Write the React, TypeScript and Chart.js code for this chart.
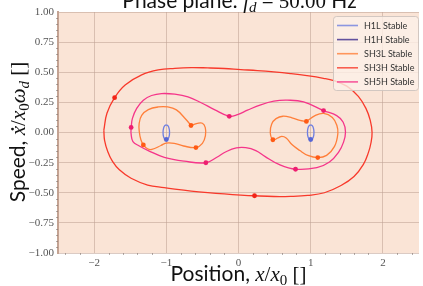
import React, { useEffect, useRef } from "react";
import { Chart, registerables } from "chart.js";

Chart.register(...registerables);

// ---------- data ----------
const xTicks = [-2, -1, 0, 1, 2];
const yTicks = [-1, -0.75, -0.5, -0.25, 0, 0.25, 0.5, 0.75, 1];
const xMinorTicks = [-2.4, -2.2, -1.8, -1.6, -1.4, -1.2, -0.8, -0.6, -0.4, -0.2, 0.2, 0.4, 0.6, 0.8, 1.2, 1.4, 1.6, 1.8, 2.2, 2.4];
const yMinorTicks = [-0.95, -0.9, -0.85, -0.8, -0.7, -0.65, -0.6, -0.55, -0.45, -0.4, -0.35, -0.3, -0.2, -0.15, -0.1, -0.05, 0.05, 0.1, 0.15, 0.2, 0.3, 0.35, 0.4, 0.45, 0.55, 0.6, 0.65, 0.7, 0.8, 0.85, 0.9, 0.95];

const h1lLeft: number[][] = [
  [-1.0, 0.064], [-0.976, 0.054], [-0.96, 0.03], [-0.955, 0.0], [-0.96, -0.03], [-0.976, -0.053], [-1.0, -0.062],
  [-1.024, -0.053], [-1.04, -0.03], [-1.045, 0.0], [-1.04, 0.03], [-1.024, 0.054], [-1.0, 0.064],
];
const h1lRight: number[][] = [
  [1.0, 0.064], [1.024, 0.054], [1.04, 0.03], [1.045, 0.0], [1.04, -0.03], [1.024, -0.053], [1.0, -0.062],
  [0.976, -0.053], [0.96, -0.03], [0.955, 0.0], [0.96, 0.03], [0.976, 0.054], [1.0, 0.064],
];
const h1hCurve: number[][] = [];
const h1Markers: number[][] = [[-1.0, -0.058], [1.0, -0.058]];

const sh3lLeft: number[][] = [
  [-0.656, 0.058], [-0.746, 0.12], [-0.86, 0.188], [-0.98, 0.212], [-1.112, 0.212], [-1.249, 0.19],
  [-1.341, 0.142], [-1.376, 0.075], [-1.374, 0.006], [-1.352, -0.06], [-1.318, -0.103], [-1.26, -0.135],
  [-1.2, -0.14], [-1.074, -0.108], [-1.005, -0.088], [-0.89, -0.09], [-0.76, -0.112], [-0.59, -0.125],
  [-0.5, -0.09], [-0.458, -0.025], [-0.46, 0.04], [-0.5, 0.077], [-0.57, 0.075], [-0.656, 0.058],
];
const sh3lRight: number[][] = [
  [0.94, 0.092], [1.06, 0.14], [1.18, 0.158], [1.3, 0.125], [1.362, 0.06], [1.376, -0.01], [1.33, -0.115],
  [1.22, -0.19], [1.098, -0.208], [0.96, -0.19], [0.85, -0.15], [0.74, -0.1], [0.66, -0.045], [0.6, -0.032],
  [0.548, -0.045], [0.476, -0.06], [0.44, 0.0], [0.46, 0.07], [0.52, 0.115], [0.615, 0.135], [0.74, 0.122],
  [0.85, 0.1], [0.94, 0.092],
];
const sh3lMarkers: number[][] = [
  [-0.658, 0.058], [-1.318, -0.103], [-0.59, -0.125],
  [0.94, 0.092], [0.476, -0.06], [1.098, -0.208],
];

const sh3hCurve: number[][] = [
  [-1.865, 0.02], [-1.822, 0.16], [-1.716, 0.289], [-1.57, 0.394], [-1.341, 0.478], [-1.112, 0.519],
  [-0.883, 0.533], [-0.654, 0.539], [-0.426, 0.536], [-0.197, 0.531], [0.032, 0.522], [0.261, 0.514],
  [0.49, 0.503], [0.719, 0.489], [0.947, 0.472], [1.176, 0.45], [1.32, 0.43], [1.5, 0.385], [1.66, 0.3],
  [1.765, 0.2], [1.825, 0.1], [1.85, 0.0], [1.835, -0.085], [1.8, -0.165], [1.73, -0.265], [1.6, -0.365],
  [1.42, -0.44], [1.19, -0.5], [0.96, -0.522], [0.72, -0.53], [0.49, -0.531], [0.222, -0.525],
  [0.032, -0.519], [-0.197, -0.51], [-0.426, -0.499], [-0.654, -0.486], [-0.883, -0.47], [-1.03, -0.458],
  [-1.258, -0.436], [-1.488, -0.38], [-1.65, -0.31], [-1.745, -0.24], [-1.81, -0.16], [-1.855, -0.065],
  [-1.865, 0.02],
];
const sh3hMarkers: number[][] = [[-1.716, 0.289], [0.222, -0.525]];

const sh5hCurve: number[][] = [
  [-1.487, 0.042], [-1.469, 0.117], [-1.41, 0.2], [-1.318, 0.268], [-1.204, 0.307], [-1.066, 0.323],
  [-0.883, 0.318], [-0.7, 0.296], [-0.517, 0.247], [-0.334, 0.19], [-0.128, 0.134], [-0.014, 0.148],
  [0.124, 0.185], [0.307, 0.23], [0.49, 0.26], [0.673, 0.268], [0.902, 0.255], [1.178, 0.182],
  [1.36, 0.14], [1.45, 0.085], [1.482, 0.004], [1.455, -0.08], [1.385, -0.165], [1.26, -0.245],
  [1.085, -0.292], [0.79, -0.305], [0.56, -0.265], [0.37, -0.2], [0.24, -0.15], [0.1, -0.126],
  [-0.03, -0.128], [-0.174, -0.16], [-0.3, -0.205], [-0.452, -0.251], [-0.752, -0.238], [-1.028, -0.206],
  [-1.25, -0.15], [-1.38, -0.11], [-1.462, -0.075], [-1.488, -0.01], [-1.487, 0.042],
];
const sh5hMarkers: number[][] = [
  [-1.487, 0.042], [-0.128, 0.134], [1.178, 0.182], [0.79, -0.305], [-0.452, -0.251],
];

const legendLabels = ["H1L Stable", "H1H Stable", "SH3L Stable", "SH3H Stable", "SH5H Stable"];
const legendColors = ["#6F7FE0", "#3B2A8C", "#FF7F3A", "#F8392B", "#F5358A"];

// ---------- style ----------
const PLOT_BG = "rgb(250,228,214)";
const GRID = "rgba(190,160,148,0.55)";
const SANS = "Lato";
const SERIF = '"Liberation Serif"';

const toPts = (a: number[][]) => a.map(([x, y]) => ({ x, y }));

type Seg = { t: string; f: string; dy?: number; dot?: boolean };

function drawRich(ctx: CanvasRenderingContext2D, segs: Seg[], cx: number, base: number) {
  const widths = segs.map((s) => {
    ctx.font = s.f;
    return ctx.measureText(s.t).width;
  });
  const total = widths.reduce((a, b) => a + b, 0);
  let x = cx - total / 2;
  ctx.textAlign = "left";
  ctx.textBaseline = "alphabetic";
  segs.forEach((s, i) => {
    ctx.font = s.f;
    ctx.fillText(s.t, x, base + (s.dy || 0));
    if (s.dot) {
      ctx.beginPath();
      ctx.arc(x + widths[i] / 2 + 1.5, base - 12.5, 1.4, 0, Math.PI * 2);
      ctx.fill();
    }
    x += widths[i];
  });
}

const decorPlugin = {
  id: "decor",
  beforeDraw(chart: any) {
    const { ctx, chartArea: a } = chart;
    ctx.save();
    ctx.fillStyle = "#ffffff";
    ctx.fillRect(0, 0, chart.width, chart.height);
    ctx.fillStyle = PLOT_BG;
    ctx.fillRect(a.left, a.top, a.right - a.left, a.bottom - a.top);
    ctx.restore();
  },
  afterDraw(chart: any) {
    const { ctx, chartArea: a, scales } = chart;
    const xs = scales.x;
    const ys = scales.y;
    ctx.save();
    // minor ticks
    ctx.strokeStyle = "rgba(120,110,105,0.7)";
    ctx.lineWidth = 0.8;
    xMinorTicks.forEach((v) => {
      const px = Math.round(xs.getPixelForValue(v)) + 0.5;
      ctx.beginPath();
      ctx.moveTo(px, a.bottom);
      ctx.lineTo(px, a.bottom + 2);
      ctx.stroke();
    });
    yMinorTicks.forEach((v) => {
      const py = Math.round(ys.getPixelForValue(v)) + 0.5;
      ctx.beginPath();
      ctx.moveTo(a.left - 2, py);
      ctx.lineTo(a.left, py);
      ctx.stroke();
    });

    // legend
    const lx = 333, ly = 16, lw = 85, lh = 74;
    ctx.fillStyle = "rgba(253,240,232,0.8)";
    ctx.strokeStyle = "rgba(205,195,190,0.9)";
    ctx.lineWidth = 1;
    ctx.beginPath();
    (ctx as any).roundRect(lx + 0.5, ly + 0.5, lw, lh, 3);
    ctx.fill();
    ctx.stroke();
    ctx.font = `9px ${SANS}`;
    ctx.textAlign = "left";
    ctx.textBaseline = "middle";
    legendLabels.forEach((lab, i) => {
      const yy = ly + 9.5 + i * 14.1;
      ctx.globalAlpha = 0.8;
      ctx.strokeStyle = legendColors[i];
      ctx.lineWidth = 1.6;
      ctx.beginPath();
      ctx.moveTo(337, yy);
      ctx.lineTo(358, yy);
      ctx.stroke();
      ctx.globalAlpha = 1;
      ctx.fillStyle = "#333";
      ctx.fillText(lab, 364, yy + 0.5);
    });

    // title
    ctx.fillStyle = "#111";
    drawRich(
      ctx,
      [
        { t: "Phase plane: ", f: `21px ${SANS}` },
        { t: "f", f: `italic 21px ${SERIF}` },
        { t: "d", f: `italic 15px ${SERIF}`, dy: 4 },
        { t: " = 50.00 ", f: `21px ${SERIF}` },
        { t: "Hz", f: `21px ${SANS}` },
      ],
      239.5,
      8
    );

    // x label
    drawRich(
      ctx,
      [
        { t: "Position, ", f: `21px ${SANS}` },
        { t: "x", f: `italic 21px ${SERIF}` },
        { t: "/", f: `21px ${SERIF}` },
        { t: "x", f: `italic 21px ${SERIF}` },
        { t: "0", f: `15px ${SERIF}`, dy: 4 },
        { t: " []", f: `21px ${SERIF}` },
      ],
      238.5,
      281
    );

    // y label
    ctx.translate(25, 132);
    ctx.rotate(-Math.PI / 2);
    drawRich(
      ctx,
      [
        { t: "Speed, ", f: `21px ${SANS}` },
        { t: "x", f: `italic 21px ${SERIF}`, dot: true },
        { t: "/", f: `21px ${SERIF}` },
        { t: "x", f: `italic 21px ${SERIF}` },
        { t: "0", f: `15px ${SERIF}`, dy: 4 },
        { t: "ω", f: `italic 21px ${SERIF}` },
        { t: "d", f: `italic 15px ${SERIF}`, dy: 4 },
        { t: " []", f: `21px ${SERIF}` },
      ],
      0,
      0
    );
    ctx.restore();
  },
};

const curve = (label: string, data: number[][], color: string) => ({
  label,
  data: toPts(data),
  showLine: true,
  borderColor: color,
  backgroundColor: color,
  borderWidth: 1.3,
  pointRadius: 0,
  pointHoverRadius: 0,
  tension: 0.4,
  order: 2,
});
const markers = (label: string, data: number[][], color: string) => ({
  label,
  data: toPts(data),
  showLine: false,
  pointRadius: 2.4,
  pointBorderWidth: 0,
  pointBackgroundColor: color,
  borderColor: color,
  backgroundColor: color,
  order: 1,
});

export default function App() {
  const ref = useRef<HTMLCanvasElement | null>(null);
  useEffect(() => {
    document.body.style.margin = "0";
    if (!ref.current) return;
    const chart = new Chart(ref.current, {
      type: "scatter",
      data: {
        datasets: [
          curve("H1L Stable", h1lLeft, legendColors[0]),
          curve("H1L Stable (2)", h1lRight, legendColors[0]),
          curve("H1H Stable", h1hCurve, legendColors[1]),
          curve("SH3L Stable", sh3lLeft, legendColors[2]),
          curve("SH3L Stable (2)", sh3lRight, legendColors[2]),
          curve("SH3H Stable", sh3hCurve, legendColors[3]),
          curve("SH5H Stable", sh5hCurve, legendColors[4]),
          markers("H1 pts", h1Markers, "#5565D5"),
          markers("SH3L pts", sh3lMarkers, "#FF5A14"),
          markers("SH3H pts", sh3hMarkers, "#F22418"),
          markers("SH5H pts", sh5hMarkers, "#EE1F70"),
        ] as any,
      },
      options: {
        responsive: false,
        animation: false,
        devicePixelRatio: 1,
        layout: { padding: { top: 12, right: 1, left: 0, bottom: 0 } },
        plugins: { legend: { display: false }, tooltip: { enabled: false }, title: { display: false } },
        scales: {
          x: {
            type: "linear",
            min: -2.5,
            max: 2.5,
            afterBuildTicks: (s: any) => {
              s.ticks = xTicks.map((v) => ({ value: v }));
            },
            afterFit: (s: any) => {
              s.height = 33;
            },
            grid: { color: GRID, lineWidth: 1, drawTicks: false },
            border: { display: false },
            ticks: {
              padding: 4,
              color: "#555",
              font: { family: "Liberation Serif", size: 11 },
              callback: (v: any) => (Number(v) < 0 ? "\u2212" + Math.abs(Number(v)) : String(v)),
            },
          },
          y: {
            type: "linear",
            min: -1,
            max: 1,
            afterBuildTicks: (s: any) => {
              s.ticks = yTicks.map((v) => ({ value: v }));
            },
            afterFit: (s: any) => {
              s.width = 58;
            },
            grid: { color: GRID, lineWidth: 1, drawTicks: false },
            border: { display: true, color: "#C4A393", width: 2 },
            ticks: {
              padding: 4,
              color: "#555",
              font: { family: "Liberation Serif", size: 11 },
              callback: (v: any) => {
                const n = Number(v);
                const s = Math.abs(n).toFixed(2);
                return n < 0 ? "\u2212" + s : s;
              },
            },
          },
        },
      },
      plugins: [decorPlugin],
    });
    return () => chart.destroy();
  }, []);
  return <canvas ref={ref} width={423} height={286} style={{ display: "block", width: 423, height: 286 }} />;
}
